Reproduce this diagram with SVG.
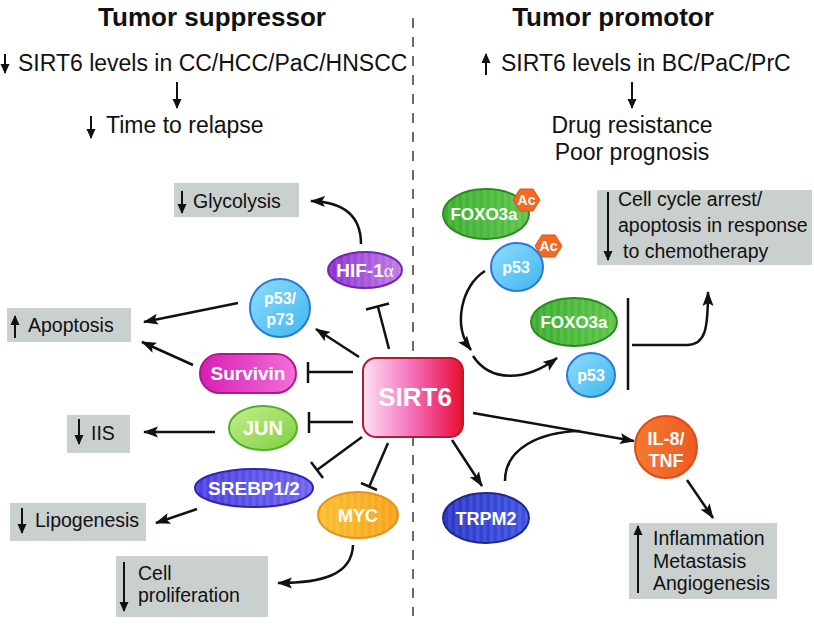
<svg xmlns="http://www.w3.org/2000/svg" width="814" height="624" viewBox="0 0 814 624">
<style>
text{font-family:"Liberation Sans",Arial,sans-serif;}
.hd{font-size:26px;font-weight:bold;fill:#111;}
.tp{font-size:23px;fill:#111;}
.bx{font-size:19.5px;fill:#111;}
.box{fill:#c9d0ce;}
.nl{font-weight:bold;fill:#fff;text-anchor:middle;}
.ln{fill:none;stroke:#111;stroke-width:2.5;}
.ar{fill:none;stroke:#111;stroke-width:2.5;marker-end:url(#ah);}
.ta{fill:none;stroke:#111;stroke-width:2;marker-end:url(#sh);}
.st{fill:url(#stripes);}
</style>
<defs>
<marker id="ah" markerUnits="userSpaceOnUse" markerWidth="16" markerHeight="13" refX="14" refY="6.5" orient="auto"><path d="M0,1 L15,6.5 L0,12 L3,6.5 z" fill="#111"/></marker>
<marker id="sh" markerUnits="userSpaceOnUse" markerWidth="11" markerHeight="10" refX="9" refY="5" orient="auto"><path d="M0,0.5 L10,5 L0,9.5 z" fill="#111"/></marker>
<pattern id="stripes" width="7" height="10" patternUnits="userSpaceOnUse"><rect width="3.5" height="10" fill="#fff" opacity="0.09"/></pattern>
<linearGradient id="gSirt" x1="0" y1="0" x2="1" y2="0"><stop offset="0" stop-color="#fde0f4"/><stop offset="0.45" stop-color="#f47ac2"/><stop offset="0.8" stop-color="#ee2f6e"/><stop offset="1" stop-color="#e8102a"/></linearGradient>
<linearGradient id="gHif" x1="0" y1="0" x2="1" y2="0"><stop offset="0" stop-color="#8a2fd0"/><stop offset="1" stop-color="#c27ae8"/></linearGradient>
<linearGradient id="gBlue" x1="0" y1="0" x2="1" y2="1"><stop offset="0" stop-color="#8fdcfb"/><stop offset="1" stop-color="#3fb6f0"/></linearGradient>
<linearGradient id="gSurv" x1="0" y1="0" x2="1" y2="0"><stop offset="0" stop-color="#d61fb5"/><stop offset="1" stop-color="#f36fd8"/></linearGradient>
<linearGradient id="gJun" x1="0" y1="0" x2="1" y2="1"><stop offset="0" stop-color="#c6ee8e"/><stop offset="1" stop-color="#7fd03e"/></linearGradient>
<linearGradient id="gSreb" x1="0" y1="0" x2="1" y2="0"><stop offset="0" stop-color="#4a3fe0"/><stop offset="1" stop-color="#6e62f0"/></linearGradient>
<linearGradient id="gMyc" x1="0" y1="0" x2="1" y2="0"><stop offset="0" stop-color="#f9c030"/><stop offset="1" stop-color="#f5a21a"/></linearGradient>
<linearGradient id="gTrp" x1="0" y1="0" x2="1" y2="0"><stop offset="0" stop-color="#2a36c8"/><stop offset="1" stop-color="#3e52e0"/></linearGradient>
<linearGradient id="gIl" x1="0" y1="0" x2="1" y2="0"><stop offset="0" stop-color="#f57a30"/><stop offset="1" stop-color="#ee5a22"/></linearGradient>
<linearGradient id="gFox" x1="0" y1="0" x2="1" y2="0"><stop offset="0" stop-color="#3aae2e"/><stop offset="1" stop-color="#5cc44a"/></linearGradient>
</defs>

<rect width="814" height="624" fill="#fff"/>

<line id="divider" x1="413" y1="18" x2="413" y2="616" stroke="#6b6b6b" stroke-width="2" stroke-dasharray="10 9"/>

<g id="header-left">
<text class="hd" x="212" y="26" text-anchor="middle">Tumor suppressor</text>
<line class="ta" x1="5" y1="54" x2="5" y2="73"/>
<text class="tp" x="18" y="71">SIRT6 levels in CC/HCC/PaC/HNSCC</text>
<line class="ta" x1="177" y1="82" x2="177" y2="108"/>
<line class="ta" x1="91" y1="116" x2="91" y2="138"/>
<text class="tp" x="106" y="133">Time to relapse</text>
</g>

<g id="header-right">
<text class="hd" x="613" y="26" text-anchor="middle">Tumor promotor</text>
<line class="ta" x1="486" y1="75" x2="486" y2="54"/>
<text class="tp" x="501" y="71">SIRT6 levels in BC/PaC/PrC</text>
<line class="ta" x1="632" y1="82" x2="632" y2="108"/>
<text class="tp" x="632" y="133" text-anchor="middle">Drug resistance</text>
<text class="tp" x="632" y="160" text-anchor="middle">Poor prognosis</text>
</g>

<g id="box-glycolysis">
<rect class="box" x="174" y="183" width="125" height="34"/>
<line class="ta" x1="182" y1="191" x2="182" y2="213"/>
<text class="bx" x="193" y="208">Glycolysis</text>
</g>
<g id="box-apoptosis">
<rect class="box" x="7" y="308" width="124" height="34"/>
<line class="ta" x1="15" y1="338" x2="15" y2="316"/>
<text class="bx" x="28" y="332">Apoptosis</text>
</g>
<g id="box-iis">
<rect class="box" x="67" y="415" width="63" height="38"/>
<line class="ta" x1="79" y1="419" x2="79" y2="444"/>
<text class="bx" x="91" y="440">IIS</text>
</g>
<g id="box-lipogenesis">
<rect class="box" x="10" y="503" width="136" height="38"/>
<line class="ta" x1="22" y1="508" x2="22" y2="533"/>
<text class="bx" x="35" y="527">Lipogenesis</text>
</g>
<g id="box-cellprolif">
<rect class="box" x="116" y="556" width="152" height="61"/>
<line class="ta" x1="124" y1="562" x2="124" y2="611"/>
<text class="bx" x="138" y="580">Cell</text>
<text class="bx" x="138" y="602">proliferation</text>
</g>
<g id="box-cellcycle">
<rect class="box" x="597" y="190" width="215" height="75"/>
<line class="ta" x1="608" y1="192" x2="608" y2="260"/>
<text class="bx" x="618" y="206">Cell cycle arrest/</text>
<text class="bx" x="618" y="232">apoptosis in response</text>
<text class="bx" x="623" y="258">to chemotherapy</text>
</g>
<g id="box-inflammation">
<rect class="box" x="629" y="523" width="148" height="76"/>
<line class="ta" x1="638" y1="593" x2="638" y2="526"/>
<text class="bx" x="653" y="545">Inflammation</text>
<text class="bx" x="653" y="568">Metastasis</text>
<text class="bx" x="653" y="590">Angiogenesis</text>
</g>

<g id="connectors">
<path class="ar" d="M361 244 C361 218 346 202 311 201"/>
<line class="ln" x1="389" y1="349" x2="378" y2="307"/>
<line class="ln" x1="366" y1="309.5" x2="389" y2="303.5"/>
<line class="ar" x1="359" y1="357" x2="316" y2="329"/>
<line class="ar" x1="238" y1="303" x2="144" y2="322"/>
<line class="ar" x1="193" y1="365" x2="142" y2="342"/>
<line class="ln" x1="353" y1="372" x2="308" y2="372"/>
<line class="ln" x1="308" y1="362" x2="308" y2="383"/>
<line class="ln" x1="353" y1="422" x2="309" y2="422"/>
<line class="ln" x1="309" y1="412" x2="309" y2="433"/>
<line class="ar" x1="215" y1="432" x2="144" y2="432"/>
<line class="ln" x1="362" y1="437" x2="317" y2="470"/>
<line class="ln" x1="311" y1="462" x2="323" y2="478"/>
<line class="ar" x1="197" y1="509" x2="156" y2="523"/>
<line class="ln" x1="388" y1="443" x2="369" y2="487"/>
<line class="ln" x1="361" y1="483" x2="377" y2="490"/>
<path class="ar" d="M353 545 C352 575 322 583 278 583"/>
<line class="ar" x1="452" y1="440" x2="482" y2="486"/>
<line class="ar" x1="473" y1="413" x2="634" y2="441"/>
<path class="ln" d="M505 481 C505 448 540 432 580 431"/>
<line class="ar" x1="687" y1="480" x2="713" y2="518"/>
<path class="ar" d="M485 271 C462 285 452 325 471 350"/>
<path class="ar" d="M473 356 C490 382 525 382 557 358"/>
<line class="ln" x1="628" y1="298" x2="628" y2="390"/>
<path class="ar" d="M632 345 L688 345 C705 344 708 330 708 292"/>
</g>

<g id="n-sirt6">
<rect x="363" y="358" width="100" height="79" rx="13" fill="url(#gSirt)" stroke="#b81a2e" stroke-width="2"/>
<text class="nl" x="415" y="406" font-size="26">SIRT6</text>
</g>
<g id="n-hif">
<ellipse cx="365" cy="270" rx="37" ry="18" fill="url(#gHif)" stroke="#7326b0" stroke-width="2"/>
<ellipse class="st" cx="365" cy="270" rx="36" ry="17"/>
<text class="nl" x="365" y="277" font-size="19">HIF-1<tspan font-family="'Liberation Serif',serif" font-weight="normal">α</tspan></text>
</g>
<g id="n-p5373">
<ellipse cx="280" cy="308" rx="30" ry="29" fill="url(#gBlue)" stroke="#2a78d8" stroke-width="2"/>
<text class="nl" x="280" y="304" font-size="16">p53/</text>
<text class="nl" x="280" y="325" font-size="16">p73</text>
</g>
<g id="n-survivin">
<rect x="200" y="354" width="96" height="39" rx="19.5" fill="url(#gSurv)" stroke="#b0188f" stroke-width="2"/>
<text class="nl" x="248" y="380" font-size="19">Survivin</text>
</g>
<g id="n-jun">
<ellipse cx="263" cy="428" rx="34" ry="22" fill="url(#gJun)" stroke="#4fb02a" stroke-width="2"/>
<text class="nl" x="263" y="435" font-size="20">JUN</text>
</g>
<g id="n-srebp">
<ellipse cx="254" cy="488" rx="59" ry="19" fill="url(#gSreb)" stroke="#2f26b0" stroke-width="2"/>
<ellipse class="st" cx="254" cy="488" rx="58" ry="18"/>
<text class="nl" x="254" y="495" font-size="19">SREBP1/2</text>
</g>
<g id="n-myc">
<ellipse cx="358" cy="515" rx="40" ry="23" fill="url(#gMyc)" stroke="#e8901a" stroke-width="2"/>
<ellipse class="st" cx="358" cy="515" rx="39" ry="22"/>
<text class="nl" x="358" y="522" font-size="18">MYC</text>
</g>
<g id="n-trpm2">
<ellipse cx="486" cy="518" rx="43" ry="25" fill="url(#gTrp)" stroke="#1c2890" stroke-width="2"/>
<ellipse class="st" cx="486" cy="518" rx="42" ry="24"/>
<text class="nl" x="486" y="525" font-size="18">TRPM2</text>
</g>
<g id="n-il8">
<circle cx="666" cy="447" r="31" fill="url(#gIl)" stroke="#e04a18" stroke-width="2"/>
<text class="nl" x="666" y="445" font-size="18">IL-8/</text>
<text class="nl" x="666" y="467" font-size="18">TNF</text>
</g>
<g id="n-foxo3a-ac">
<ellipse cx="486" cy="214" rx="43" ry="25" fill="url(#gFox)" stroke="#2a8a20" stroke-width="2"/>
<ellipse class="st" cx="486" cy="214" rx="42" ry="24"/>
<text class="nl" x="484" y="220" font-size="17">FOXO3a</text>
<polygon points="513,200 520,189 533,189 540,200 533,211 520,211" fill="#f26a22" stroke="#e0501a" stroke-width="1"/>
<text class="nl" x="526.5" y="205" font-size="14">Ac</text>
</g>
<g id="n-p53-ac">
<ellipse cx="517" cy="267" rx="26" ry="24" fill="url(#gBlue)" stroke="#2a78d8" stroke-width="2"/>
<text class="nl" x="516" y="273" font-size="16">p53</text>
<polygon points="535,246 542,235 555,235 562,246 555,257 542,257" fill="#f26a22" stroke="#e0501a" stroke-width="1"/>
<text class="nl" x="548.5" y="251" font-size="14">Ac</text>
</g>
<g id="n-foxo3a">
<ellipse cx="574" cy="322" rx="43" ry="24" fill="url(#gFox)" stroke="#2a8a20" stroke-width="2"/>
<ellipse class="st" cx="574" cy="322" rx="42" ry="23"/>
<text class="nl" x="574" y="328" font-size="17">FOXO3a</text>
</g>
<g id="n-p53">
<ellipse cx="591" cy="375" rx="24" ry="22" fill="url(#gBlue)" stroke="#2a78d8" stroke-width="2"/>
<text class="nl" x="591" y="381" font-size="16">p53</text>
</g>
</svg>
